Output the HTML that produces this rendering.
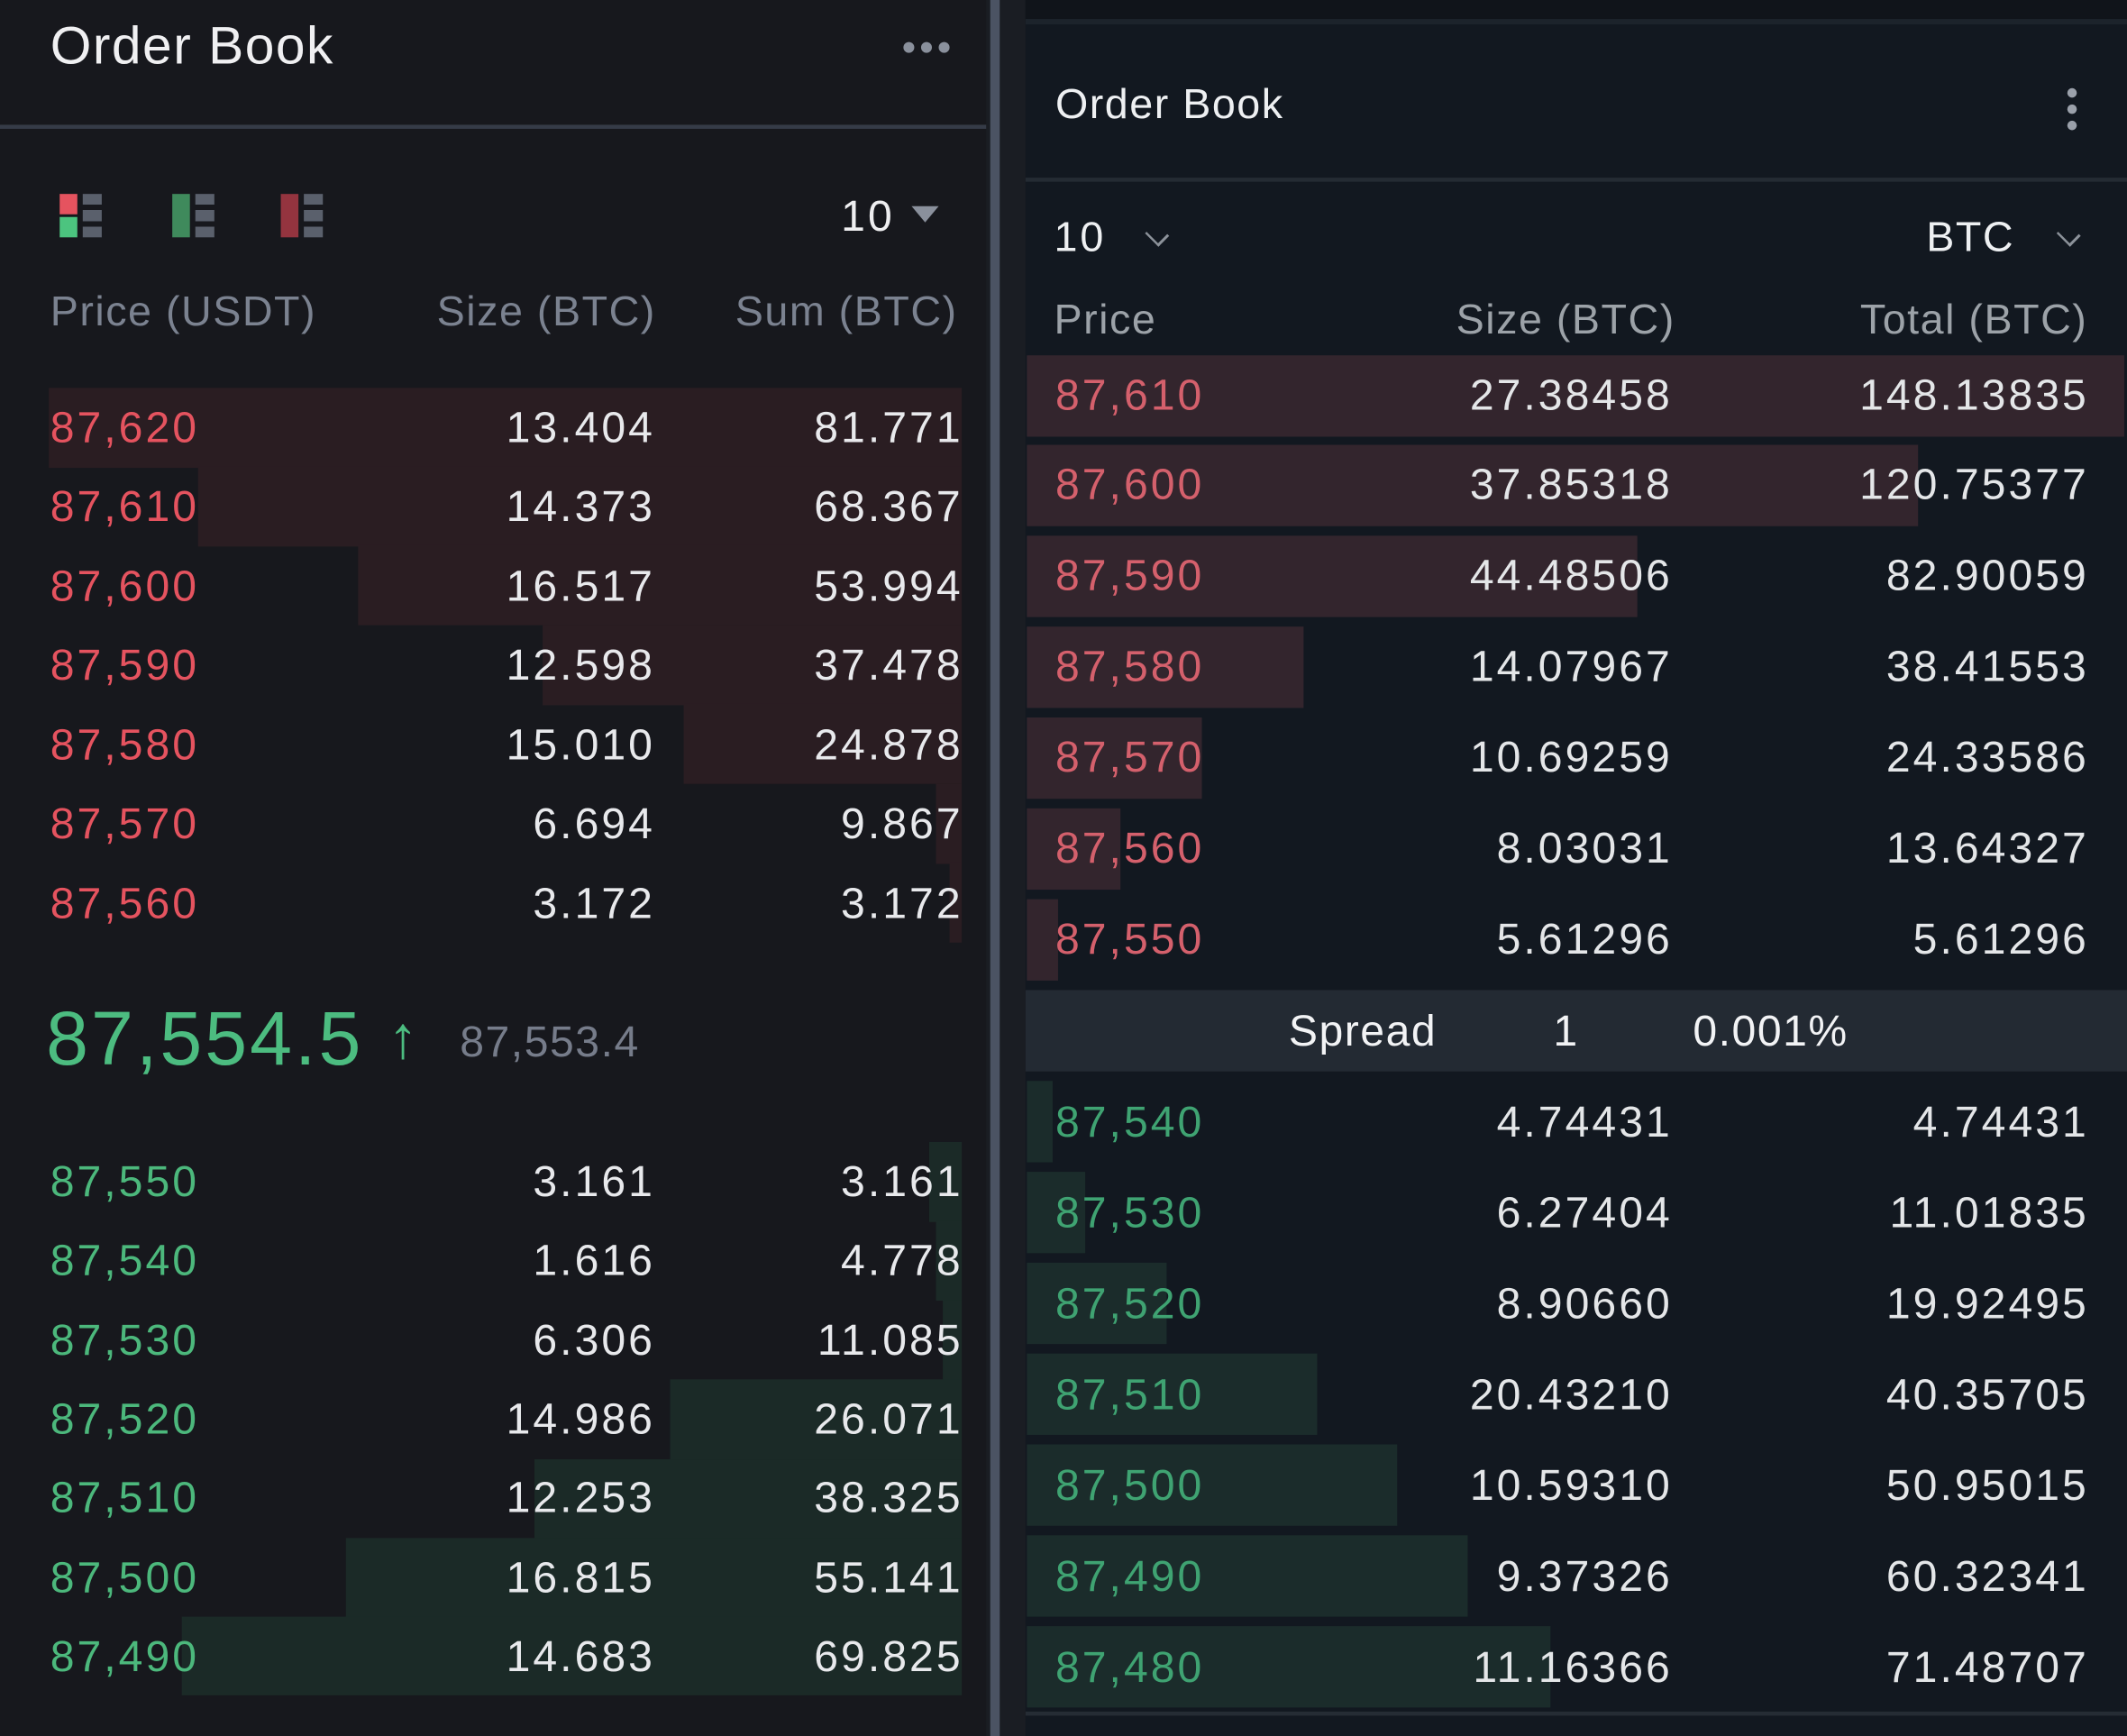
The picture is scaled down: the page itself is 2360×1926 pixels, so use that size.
<!DOCTYPE html>
<html><head><meta charset="utf-8"><style>
html,body{margin:0;padding:0;background:#16171c;overflow:hidden}
#w{position:absolute;left:0;top:0;width:1568px;height:1280px;transform-origin:0 0;transform:scale(1.50510,1.50469);font-family:"Liberation Sans",sans-serif;background:#17181d}
.a{position:absolute;white-space:nowrap}
.L{position:absolute;left:0;width:727px;top:0;height:1280px;background:#17181d}
.R{position:absolute;left:756px;width:812px;top:0;height:1280px;background:#121820}
.row{position:absolute;height:58px;line-height:58px;font-size:32px;color:#e8e9ec;letter-spacing:2px;margin-right:-2px}
.rrow{position:absolute;height:60px;line-height:60px;font-size:32px;color:#e4e6e8;letter-spacing:2px;margin-right:-2px}
.bar{position:absolute}
.h{letter-spacing:1px}
</style></head><body><div id="w">
<div class="L"></div>
<div class="a" style="left:727px;top:0;width:29px;height:1280px;background:#1a1d23"></div>
<div class="a" style="left:730px;top:0;width:7px;height:1280px;background:#4b5363"></div>
<div class="R"></div>
<div class="a" style="left:756px;top:0;width:812px;height:16px;background:#10141a"></div>
<div class="a" style="left:756px;top:14px;width:812px;height:4px;background:#1c232b"></div>

<!-- LEFT HEADER -->
<div class="a" style="left:37px;top:13px;font-size:39px;color:#f0f0f2;line-height:44px;letter-spacing:1px">Order Book</div>
<div class="a" style="left:666px;top:31px;width:8px;height:8px;border-radius:4px;background:#8a909c;box-shadow:13px 0 0 #8a909c,26px 0 0 #8a909c"></div>
<div class="a" style="left:0;top:92px;width:727px;height:3px;background:#353b47"></div>
<div class="a" style="left:44px;top:143px;width:13px;height:15px;background:#e5535f"></div>
<div class="a" style="left:44px;top:160px;width:13px;height:15px;background:#4cc47f"></div>
<div class="a" style="left:61px;top:143px;width:14px;height:32px;background:repeating-linear-gradient(#5a606c 0 8px,transparent 8px 12px)"></div>
<div class="a" style="left:127px;top:143px;width:13px;height:32px;background:#3f8a5c"></div>
<div class="a" style="left:144px;top:143px;width:14px;height:32px;background:repeating-linear-gradient(#5a606c 0 8px,transparent 8px 12px)"></div>
<div class="a" style="left:207px;top:143px;width:13px;height:32px;background:#94343f"></div>
<div class="a" style="left:224px;top:143px;width:14px;height:32px;background:repeating-linear-gradient(#5a606c 0 8px,transparent 8px 12px)"></div>
<div class="a" style="left:620px;top:140px;font-size:32px;color:#eeeef0;line-height:38px;letter-spacing:2px">10</div>
<div class="a" style="left:672px;top:152px;width:0;height:0;border-left:10px solid transparent;border-right:10px solid transparent;border-top:12px solid #8a909c"></div>
<div class="a h" style="left:37px;top:210px;font-size:31px;color:#7b8290;line-height:40px">Price (USDT)</div>
<div class="a h" style="left:322px;top:210px;font-size:31px;color:#7b8290;line-height:40px">Size (BTC)</div>
<div class="a h" style="left:542px;top:210px;font-size:31px;color:#7b8290;line-height:40px">Sum (BTC)</div>

<!-- LEFT ASKS -->
<div class="bar" style="left:36px;top:286px;width:673px;height:59px;background:#2a1d22"></div>
<div class="bar" style="left:146px;top:344px;width:563px;height:59px;background:#2a1d22"></div>
<div class="bar" style="left:264px;top:402px;width:445px;height:59px;background:#2a1d22"></div>
<div class="bar" style="left:400px;top:461px;width:309px;height:59px;background:#2a1d22"></div>
<div class="bar" style="left:504px;top:519px;width:205px;height:59px;background:#2a1d22"></div>
<div class="bar" style="left:690px;top:578px;width:19px;height:59px;background:#2a1d22"></div>
<div class="bar" style="left:700px;top:636px;width:9px;height:59px;background:#2a1d22"></div>

<div class="row" style="top:286px;left:37px;color:#e5535f">87,620</div><div class="row" style="top:286px;right:1087px">13.404</div><div class="row" style="top:286px;right:860px">81.771</div>
<div class="row" style="top:344px;left:37px;color:#e5535f">87,610</div><div class="row" style="top:344px;right:1087px">14.373</div><div class="row" style="top:344px;right:860px">68.367</div>
<div class="row" style="top:403px;left:37px;color:#e5535f">87,600</div><div class="row" style="top:403px;right:1087px">16.517</div><div class="row" style="top:403px;right:860px">53.994</div>
<div class="row" style="top:461px;left:37px;color:#e5535f">87,590</div><div class="row" style="top:461px;right:1087px">12.598</div><div class="row" style="top:461px;right:860px">37.478</div>
<div class="row" style="top:520px;left:37px;color:#e5535f">87,580</div><div class="row" style="top:520px;right:1087px">15.010</div><div class="row" style="top:520px;right:860px">24.878</div>
<div class="row" style="top:578px;left:37px;color:#e5535f">87,570</div><div class="row" style="top:578px;right:1087px">6.694</div><div class="row" style="top:578px;right:860px">9.867</div>
<div class="row" style="top:637px;left:37px;color:#e5535f">87,560</div><div class="row" style="top:637px;right:1087px">3.172</div><div class="row" style="top:637px;right:860px">3.172</div>

<!-- MID -->
<div class="a" style="left:34px;top:733px;font-size:56px;color:#4cbc80;line-height:66px;letter-spacing:2px">87,554.5</div>
<div class="a" style="left:286px;top:740px;font-size:44px;color:#4cbc80;line-height:52px">↑</div>
<div class="a" style="left:339px;top:750px;font-size:32px;color:#767c8a;line-height:36px;letter-spacing:1px">87,553.4</div>

<!-- LEFT BIDS -->
<div class="bar" style="left:685px;top:842px;width:24px;height:59px;background:#1b2a27"></div>
<div class="bar" style="left:690px;top:900px;width:19px;height:59px;background:#1b2a27"></div>
<div class="bar" style="left:695px;top:959px;width:14px;height:59px;background:#1b2a27"></div>
<div class="bar" style="left:494px;top:1017px;width:215px;height:59px;background:#1b2a27"></div>
<div class="bar" style="left:394px;top:1076px;width:315px;height:59px;background:#1b2a27"></div>
<div class="bar" style="left:255px;top:1134px;width:454px;height:59px;background:#1b2a27"></div>
<div class="bar" style="left:134px;top:1192px;width:575px;height:58px;background:#1b2a27"></div>

<div class="row" style="top:842px;left:37px;color:#4cb87c">87,550</div><div class="row" style="top:842px;right:1087px">3.161</div><div class="row" style="top:842px;right:860px">3.161</div>
<div class="row" style="top:900px;left:37px;color:#4cb87c">87,540</div><div class="row" style="top:900px;right:1087px">1.616</div><div class="row" style="top:900px;right:860px">4.778</div>
<div class="row" style="top:959px;left:37px;color:#4cb87c">87,530</div><div class="row" style="top:959px;right:1087px">6.306</div><div class="row" style="top:959px;right:860px">11.085</div>
<div class="row" style="top:1017px;left:37px;color:#4cb87c">87,520</div><div class="row" style="top:1017px;right:1087px">14.986</div><div class="row" style="top:1017px;right:860px">26.071</div>
<div class="row" style="top:1075px;left:37px;color:#4cb87c">87,510</div><div class="row" style="top:1075px;right:1087px">12.253</div><div class="row" style="top:1075px;right:860px">38.325</div>
<div class="row" style="top:1134px;left:37px;color:#4cb87c">87,500</div><div class="row" style="top:1134px;right:1087px">16.815</div><div class="row" style="top:1134px;right:860px">55.141</div>
<div class="row" style="top:1192px;left:37px;color:#4cb87c">87,490</div><div class="row" style="top:1192px;right:1087px">14.683</div><div class="row" style="top:1192px;right:860px">69.825</div>

<!-- RIGHT HEADER -->
<div class="a" style="left:778px;top:58px;font-size:31px;color:#eef0f2;line-height:38px;letter-spacing:1px">Order Book</div>
<div class="a" style="left:1524px;top:65px;width:7px;height:7px;border-radius:4px;background:#9aa0aa;box-shadow:0 12px 0 #9aa0aa,0 24px 0 #9aa0aa"></div>
<div class="a" style="left:756px;top:131px;width:812px;height:3px;background:#242b33"></div>
<div class="a" style="left:777px;top:156px;font-size:31px;color:#eef0f2;line-height:38px;letter-spacing:2px">10</div>
<div class="a" style="left:846px;top:166px;width:12px;height:12px;border-right:2px solid #8c929a;border-bottom:2px solid #8c929a;transform:rotate(45deg) scaleY(0.8)"></div>
<div class="a" style="left:1420px;top:156px;font-size:31px;color:#eef0f2;line-height:38px;letter-spacing:1px">BTC</div>
<div class="a" style="left:1518px;top:166px;width:12px;height:12px;border-right:2px solid #8c929a;border-bottom:2px solid #8c929a;transform:rotate(45deg) scaleY(0.8)"></div>
<div class="a h" style="left:777px;top:217px;font-size:31px;color:#9ca2a8;line-height:38px">Price</div>
<div class="a h" style="right:334px;top:217px;font-size:31px;color:#9ca2a8;line-height:38px;margin-right:-1px">Size (BTC)</div>
<div class="a h" style="right:30px;top:217px;font-size:31px;color:#9ca2a8;line-height:38px;margin-right:-1px">Total (BTC)</div>

<!-- RIGHT ASKS -->
<div class="bar" style="left:757px;top:262px;width:809px;height:60px;background:#33252d"></div>
<div class="bar" style="left:757px;top:328px;width:657px;height:60px;background:#33252d"></div>
<div class="bar" style="left:757px;top:395px;width:450px;height:60px;background:#33252d"></div>
<div class="bar" style="left:757px;top:462px;width:204px;height:60px;background:#33252d"></div>
<div class="bar" style="left:757px;top:529px;width:129px;height:60px;background:#33252d"></div>
<div class="bar" style="left:757px;top:596px;width:69px;height:60px;background:#33252d"></div>
<div class="bar" style="left:757px;top:663px;width:23px;height:60px;background:#33252d"></div>

<div class="rrow" style="top:261px;left:778px;color:#d4606c">87,610</div><div class="rrow" style="top:261px;right:337px">27.38458</div><div class="rrow" style="top:261px;right:30px">148.13835</div>
<div class="rrow" style="top:327px;left:778px;color:#d4606c">87,600</div><div class="rrow" style="top:327px;right:337px">37.85318</div><div class="rrow" style="top:327px;right:30px">120.75377</div>
<div class="rrow" style="top:394px;left:778px;color:#d4606c">87,590</div><div class="rrow" style="top:394px;right:337px">44.48506</div><div class="rrow" style="top:394px;right:30px">82.90059</div>
<div class="rrow" style="top:461px;left:778px;color:#d4606c">87,580</div><div class="rrow" style="top:461px;right:337px">14.07967</div><div class="rrow" style="top:461px;right:30px">38.41553</div>
<div class="rrow" style="top:528px;left:778px;color:#d4606c">87,570</div><div class="rrow" style="top:528px;right:337px">10.69259</div><div class="rrow" style="top:528px;right:30px">24.33586</div>
<div class="rrow" style="top:595px;left:778px;color:#d4606c">87,560</div><div class="rrow" style="top:595px;right:337px">8.03031</div><div class="rrow" style="top:595px;right:30px">13.64327</div>
<div class="rrow" style="top:662px;left:778px;color:#d4606c">87,550</div><div class="rrow" style="top:662px;right:337px">5.61296</div><div class="rrow" style="top:662px;right:30px">5.61296</div>

<!-- SPREAD -->
<div class="bar" style="left:756px;top:730px;width:812px;height:60px;background:#232a33"></div>
<div class="rrow" style="top:730px;left:950px;color:#f2f3f5;letter-spacing:1px">Spread</div>
<div class="rrow" style="top:730px;left:1145px;color:#f2f3f5">1</div>
<div class="rrow" style="top:730px;left:1248px;color:#f2f3f5;letter-spacing:1px">0.001%</div>

<!-- RIGHT BIDS -->
<div class="bar" style="left:757px;top:797px;width:19px;height:60px;background:#1b2c2b"></div>
<div class="bar" style="left:757px;top:864px;width:43px;height:60px;background:#1b2c2b"></div>
<div class="bar" style="left:757px;top:931px;width:103px;height:60px;background:#1b2c2b"></div>
<div class="bar" style="left:757px;top:998px;width:214px;height:60px;background:#1b2c2b"></div>
<div class="bar" style="left:757px;top:1065px;width:273px;height:60px;background:#1b2c2b"></div>
<div class="bar" style="left:757px;top:1132px;width:325px;height:60px;background:#1b2c2b"></div>
<div class="bar" style="left:757px;top:1199px;width:386px;height:60px;background:#1b2c2b"></div>

<div class="rrow" style="top:797px;left:778px;color:#3fa372">87,540</div><div class="rrow" style="top:797px;right:337px">4.74431</div><div class="rrow" style="top:797px;right:30px">4.74431</div>
<div class="rrow" style="top:864px;left:778px;color:#3fa372">87,530</div><div class="rrow" style="top:864px;right:337px">6.27404</div><div class="rrow" style="top:864px;right:30px">11.01835</div>
<div class="rrow" style="top:931px;left:778px;color:#3fa372">87,520</div><div class="rrow" style="top:931px;right:337px">8.90660</div><div class="rrow" style="top:931px;right:30px">19.92495</div>
<div class="rrow" style="top:998px;left:778px;color:#3fa372">87,510</div><div class="rrow" style="top:998px;right:337px">20.43210</div><div class="rrow" style="top:998px;right:30px">40.35705</div>
<div class="rrow" style="top:1065px;left:778px;color:#3fa372">87,500</div><div class="rrow" style="top:1065px;right:337px">10.59310</div><div class="rrow" style="top:1065px;right:30px">50.95015</div>
<div class="rrow" style="top:1132px;left:778px;color:#3fa372">87,490</div><div class="rrow" style="top:1132px;right:337px">9.37326</div><div class="rrow" style="top:1132px;right:30px">60.32341</div>
<div class="rrow" style="top:1199px;left:778px;color:#3fa372">87,480</div><div class="rrow" style="top:1199px;right:337px">11.16366</div><div class="rrow" style="top:1199px;right:30px">71.48707</div>
<div class="a" style="left:756px;top:1262px;width:812px;height:3px;background:#252c34"></div>
</div></body></html>
